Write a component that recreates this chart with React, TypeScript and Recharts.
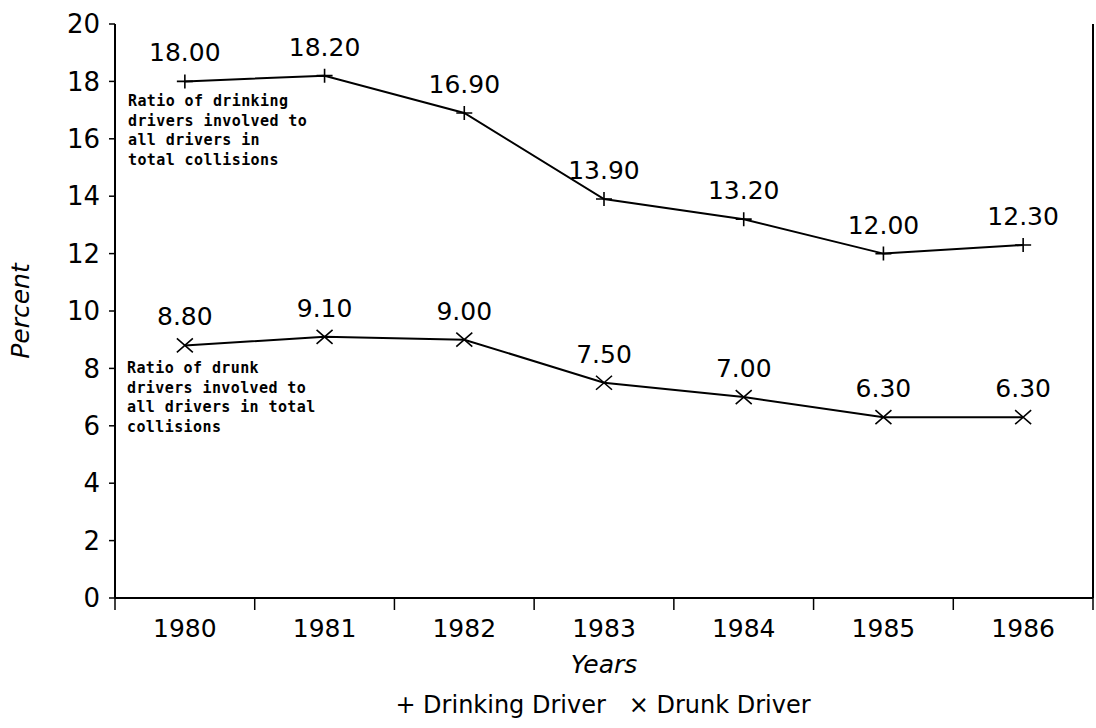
import { LineChart, Line, XAxis, YAxis, LabelList, Legend } from 'recharts';

const years = ['1980', '1981', '1982', '1983', '1984', '1985', '1986'];
const drinkingDriver = [18.0, 18.2, 16.9, 13.9, 13.2, 12.0, 12.3];
const drunkDriver = [8.8, 9.1, 9.0, 7.5, 7.0, 6.3, 6.3];
const yTicks = [0, 2, 4, 6, 8, 10, 12, 14, 16, 18, 20];

const drinkingNote = 'Ratio of drinking\ndrivers involved to\nall drivers in\ntotal collisions';
const drunkNote = 'Ratio of drunk\ndrivers involved to\nall drivers in total\ncollisions';

const data = years.map((year, i) => ({ year, drinking: drinkingDriver[i], drunk: drunkDriver[i] }));

const FONT = '"DejaVu Sans", sans-serif';
const MONO = '"DejaVu Sans Mono", monospace';
const W = 1096;
const H = 728;
const PLOT_LEFT = 115;
const PLOT_RIGHT = 1093;

const renderPlus = (p: any) => {
  const { cx, cy, index } = p;
  if (cx == null || cy == null) return <g key={`p${index}`} />;
  return (
    <path key={`p${index}`} d={`M${cx - 8},${cy}h16M${cx},${cy - 7}v14`}
      stroke="#000" strokeWidth={1.6} fill="none" />
  );
};

const renderCross = (p: any) => {
  const { cx, cy, index } = p;
  if (cx == null || cy == null) return <g key={`x${index}`} />;
  return (
    <path key={`x${index}`}
      d={`M${cx - 8},${cy - 7}L${cx + 8},${cy + 7}M${cx - 8},${cy + 7}L${cx + 8},${cy - 7}`}
      stroke="#000" strokeWidth={1.6} fill="none" />
  );
};

function YearTick(props: any) {
  const { x, y, payload, index, visibleTicksCount } = props;
  const half = payload && payload.offset ? payload.offset : (PLOT_RIGHT - PLOT_LEFT) / years.length / 2;
  return (
    <g>
      <line x1={x - half} x2={x - half} y1={y} y2={y + 12} stroke="#000" strokeWidth={1.5} />
      {index === visibleTicksCount - 1 && (
        <line x1={x + half} x2={x + half} y1={y} y2={y + 12} stroke="#000" strokeWidth={1.5} />
      )}
      <text x={x} y={y + 39} textAnchor="middle" fontSize={25} fontFamily={FONT} fill="#000">
        {payload.value}
      </text>
    </g>
  );
}

function PercentLabel(props: any) {
  const vb = props.viewBox || {};
  const cy = vb.height ? vb.y + vb.height / 2 : 311;
  return (
    <text x={20} y={cy} transform={`rotate(-90, 20, ${cy})`} textAnchor="middle"
      dominantBaseline="central" fontStyle="italic" fontSize={25} fontFamily={FONT} fill="#000">
      Percent
    </text>
  );
}

function LegendContent() {
  return (
    <div style={{ height: 40, lineHeight: '40px', paddingLeft: 110, textAlign: 'center',
      fontFamily: FONT, fontSize: 24, color: '#000', whiteSpace: 'pre' }}>
      {'+ Drinking Driver   \u00d7 Drunk Driver'}
    </div>
  );
}

const noteStyle = {
  position: 'absolute' as const,
  fontFamily: MONO,
  fontWeight: 'bold' as const,
  fontSize: 15,
  letterSpacing: 0.4,
  lineHeight: '19.7px',
  whiteSpace: 'pre' as const,
  color: '#000',
};

export default function App() {
  const fmt = (v: any) => Number(v).toFixed(2);
  const labelStyle = { fontSize: 25, fontFamily: FONT, fill: '#000' };
  return (
    <div style={{ position: 'absolute', left: 0, top: 0, width: W, height: H, background: '#fff' }}>
      <LineChart width={W} height={H} data={data} margin={{ top: 24, right: 0, left: 0, bottom: 3 }}>
        <XAxis dataKey="year" scale="band" interval={0} tickSize={0} tickMargin={0} height={87}
          tick={<YearTick />} tickLine={false} axisLine={{ stroke: '#000', strokeWidth: 2 }}
          label={{ value: 'Years', position: 'insideBottom', offset: 12, fontSize: 25,
            fontStyle: 'italic', fontFamily: FONT, fill: '#000' }} />
        <XAxis xAxisId="top" orientation="top" dataKey="year" scale="band" tick={false}
          tickLine={false} height={0} axisLine={{ stroke: '#000', strokeWidth: 2 }} />
        <YAxis domain={[0, 20]} ticks={yTicks} interval={0} width={115} tickSize={6} tickMargin={9}
          tick={{ fontSize: 26, fontFamily: FONT, fill: '#000' }}
          axisLine={{ stroke: '#000', strokeWidth: 2 }} tickLine={{ stroke: '#000', strokeWidth: 1.5 }}
          label={{ content: <PercentLabel /> }} />
        <YAxis yAxisId="right" orientation="right" domain={[0, 20]} width={3} tick={false}
          tickLine={false} axisLine={{ stroke: '#000', strokeWidth: 2 }} />
        <Legend verticalAlign="bottom" content={<LegendContent />} />
        <Line dataKey="drinking" name="Drinking Driver" stroke="#000" strokeWidth={2}
          dot={renderPlus} activeDot={false} isAnimationActive={false}>
          <LabelList dataKey="drinking" position="top" offset={20} formatter={fmt} style={labelStyle} />
        </Line>
        <Line dataKey="drunk" name="Drunk Driver" stroke="#000" strokeWidth={2}
          dot={renderCross} activeDot={false} isAnimationActive={false}>
          <LabelList dataKey="drunk" position="top" offset={20} formatter={fmt} style={labelStyle} />
        </Line>
      </LineChart>
      <div style={{ ...noteStyle, left: 128, top: 92 }}>{drinkingNote}</div>
      <div style={{ ...noteStyle, left: 127, top: 359 }}>{drunkNote}</div>
    </div>
  );
}
